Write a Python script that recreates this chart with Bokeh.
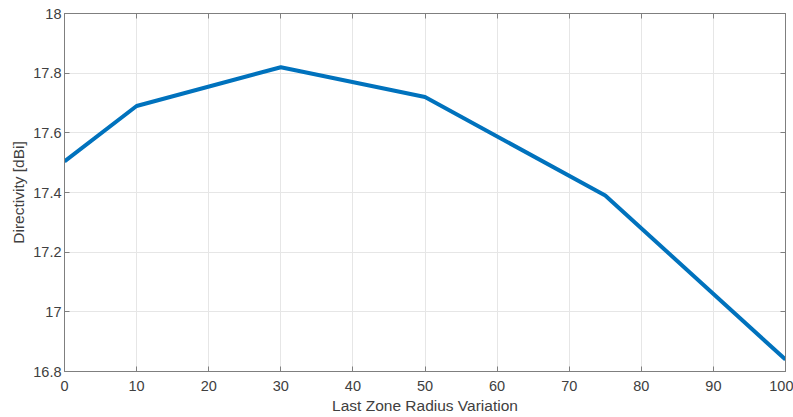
from bokeh.plotting import figure
from bokeh.models import LinearAxis, FixedTicker, Range1d
from bokeh.embed import file_html
from bokeh.resources import INLINE

# Directivity vs. last-zone radius variation
radius_variation = [0, 10, 30, 50, 75, 100]
directivity_dbi = [17.504, 17.69, 17.82, 17.72, 17.39, 16.84]

x_ticks = [0, 10, 20, 30, 40, 50, 60, 70, 80, 90, 100]
y_ticks = [16.8, 17.0, 17.2, 17.4, 17.6, 17.8, 18.0]
y_tick_labels = {16.8: "16.8", 17.0: "17", 17.2: "17.2", 17.4: "17.4",
                 17.6: "17.6", 17.8: "17.8", 18.0: "18"}

FONT = "Liberation Sans"
AXIS_GRAY = "#7f7f7f"
TEXT_GRAY = "#404040"

p = figure(width=793, height=417, output_backend="svg", toolbar_location=None,
           x_range=Range1d(0, 100), y_range=Range1d(16.8, 18.0),
           min_border_left=64, min_border_right=8, min_border_top=13,
           min_border_bottom=46)

p.line(radius_variation, directivity_dbi, line_color="#0072BD", line_width=4,
       line_join="round")

def style_axis(ax):
    ax.axis_line_color = AXIS_GRAY
    ax.axis_line_width = 1
    ax.major_tick_line_color = AXIS_GRAY
    ax.major_tick_in = 5
    ax.major_tick_out = 0
    ax.minor_tick_line_color = None
    ax.major_label_text_font = FONT
    ax.major_label_text_font_size = "14.5px"
    ax.major_label_text_color = TEXT_GRAY
    ax.axis_label_text_font = FONT
    ax.axis_label_text_font_size = "15.5px"
    ax.axis_label_text_font_style = "normal"
    ax.axis_label_text_color = TEXT_GRAY

xax = p.xaxis[0]
yax = p.yaxis[0]
xax.ticker = FixedTicker(ticks=x_ticks)
yax.ticker = FixedTicker(ticks=y_ticks)
yax.major_label_overrides = y_tick_labels
xax.axis_label = "Last Zone Radius Variation"
yax.axis_label = "Directivity [dBi]"
style_axis(xax)
style_axis(yax)
xax.major_label_standoff = 9
yax.major_label_standoff = 3
xax.axis_label_standoff = 3
yax.axis_label_standoff = 3

# Box edges: tick marks on the top and right, no labels
top = LinearAxis(ticker=FixedTicker(ticks=x_ticks),
                 major_label_overrides={t: "" for t in x_ticks})
right = LinearAxis(ticker=FixedTicker(ticks=y_ticks),
                   major_label_overrides={t: "" for t in y_ticks})
for ax in (top, right):
    style_axis(ax)
    ax.major_label_standoff = 0
p.add_layout(top, "above")
p.add_layout(right, "right")

p.xgrid.ticker = FixedTicker(ticks=x_ticks)
p.ygrid.ticker = FixedTicker(ticks=y_ticks)
p.grid.grid_line_color = "#e6e6e6"
p.grid.grid_line_width = 1
p.outline_line_color = AXIS_GRAY
p.background_fill_color = "white"
p.border_fill_color = "white"

open("out.html", "w").write(file_html(p, INLINE))
